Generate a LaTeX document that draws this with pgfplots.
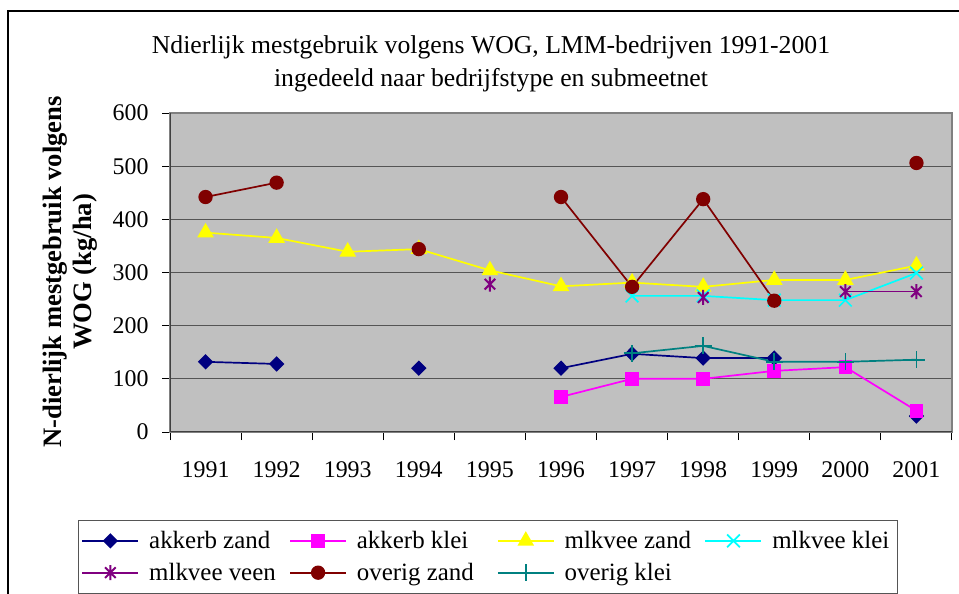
\documentclass[border=0pt]{standalone}
\usepackage{fontspec}
\setmainfont{Liberation Serif}
\usepackage{pgfplots}
\pgfplotsset{compat=1.18}
\definecolor{cAZ}{RGB}{0,0,128}
\definecolor{cAK}{RGB}{255,0,255}
\definecolor{cMZ}{RGB}{255,255,0}
\definecolor{cMK}{RGB}{0,255,255}
\definecolor{cMV}{RGB}{128,0,128}
\definecolor{cOZ}{RGB}{128,0,0}
\definecolor{cOK}{RGB}{0,128,128}
\definecolor{plotbg}{RGB}{192,192,192}
\definecolor{gridc}{RGB}{85,85,85}
\definecolor{borderc}{RGB}{128,128,128}
\pgfdeclareplotmark{xstar}{%
  \pgfpathmoveto{\pgfqpoint{0pt}{\pgfplotmarksize}}%
  \pgfpathlineto{\pgfqpoint{0pt}{-\pgfplotmarksize}}%
  \pgfpathmoveto{\pgfqpoint{-.7071\pgfplotmarksize}{-.7071\pgfplotmarksize}}%
  \pgfpathlineto{\pgfqpoint{.7071\pgfplotmarksize}{.7071\pgfplotmarksize}}%
  \pgfpathmoveto{\pgfqpoint{-.7071\pgfplotmarksize}{.7071\pgfplotmarksize}}%
  \pgfpathlineto{\pgfqpoint{.7071\pgfplotmarksize}{-.7071\pgfplotmarksize}}%
  \pgfusepathqstroke}
\newcommand{\lbox}[1]{\makebox[136bp][l]{#1}}
\begin{document}
\begin{tikzpicture}
\useasboundingbox (0bp,0bp) rectangle (959bp,594bp);
\clip (0bp,0bp) rectangle (959bp,594bp);
\draw[line width=1.5bp] (8bp,-30bp) rectangle (1000bp,583bp);
\node[align=center, font=\fontsize{25.8}{33}\selectfont] at (491bp,530bp)
  {Ndierlijk mestgebruik volgens WOG, LMM-bedrijven 1991-2001\\ingedeeld naar bedrijfstype en submeetnet};
\node[rotate=90, align=center, font=\fontsize{26.7}{30}\selectfont\bfseries] at (70bp,322bp)
  {N-dierlijk mestgebruik volgens\\WOG (kg/ha)};
\begin{axis}[
  at={(170bp,162bp)}, anchor=south west,
  scale only axis, width=782bp, height=319bp,
  xmin=1990.5, xmax=2001.5, ymin=0, ymax=600,
  xtick={1991,...,2001},
  minor xtick={1990.5,1991.5,...,2001.5},
  ytick={0,100,...,600},
  major x tick style={draw=none},
  x tick label style={/pgf/number format/1000 sep=, yshift=-18bp},
  y tick label style={xshift=-10bp},
  /pgf/number format/assume math mode=true,
  tick label style={font=\fontsize{24}{28}\selectfont},
  tick align=outside, tick pos=left,
  major tick length=8bp, minor tick length=8bp,
  tick style={color=black, line width=1bp},
  ymajorgrids, major grid style={color=gridc, line width=1.3bp},
  axis background/.style={fill=plotbg},
  axis line style={color=borderc, line width=1.3bp},
  unbounded coords=jump,
  every axis plot/.append style={line width=1.7bp},
  legend image code/.code={\draw[mark repeat=2,mark phase=2,#1] plot coordinates {(0bp,0bp) (28bp,0bp) (56bp,0bp)};},
  legend columns=4,
  legend cell align=left,
  legend style={at={(axis description cs:-0.1176,-0.2759)}, anchor=north west,
    draw=gridc, line width=1bp, font=\fontsize{25}{28}\selectfont,
    inner xsep=3bp, inner ysep=9bp,
    /tikz/every odd column/.append style={column sep=6bp},
    row sep=9bp,
    nodes={inner ysep=2bp, inner xsep=4bp}},
]
\addplot[color=cAZ, mark=diamond*, mark size=6.5bp, mark options={xscale=1.33, solid}] coordinates {
 (1991,132) (1992,128) (1993,nan) (1994,120) (1995,nan) (1996,120) (1997,147) (1998,139) (1999,139) (2000,nan) (2001,30)};
\addlegendentry{\lbox{akkerb zand}}
\addplot[color=cAK, mark=square*, mark size=6bp] coordinates {
 (1996,66) (1997,100) (1998,100) (1999,115) (2000,122) (2001,40)};
\addlegendentry{\lbox{akkerb klei}}
\addplot[color=cMZ, mark=triangle*, mark size=8bp] coordinates {
 (1991,375) (1992,365) (1993,339) (1994,344) (1995,304) (1996,274) (1997,281) (1998,273) (1999,286) (2000,286) (2001,313)};
\addlegendentry{\lbox{mlkvee zand}}
\addplot[color=cMK, mark=x, mark size=9bp] coordinates {
 (1997,256) (1998,256) (1999,248) (2000,248) (2001,299)};
\addlegendentry{\makebox[118bp][l]{mlkvee klei}}
\addplot[color=cMV, mark=xstar, mark size=7.5bp, mark options={line width=2bp}] coordinates {
 (1995,278) (1996,nan) (1997,nan) (1998,253) (1999,nan) (2000,264) (2001,264)};
\addlegendentry{\lbox{mlkvee veen}}
\addplot[color=cOZ, mark=*, mark size=6.3bp] coordinates {
 (1991,442) (1992,469) (1993,nan) (1994,344) (1995,nan) (1996,442) (1997,273) (1998,438) (1999,247) (2000,nan) (2001,506)};
\addlegendentry{\lbox{overig zand}}
\addplot[color=cOK, mark=+, mark size=8.5bp] coordinates {
 (1997,148) (1998,162) (1999,132) (2000,132) (2001,136)};
\addlegendentry{\lbox{overig klei}}
\draw[color=black!75, line width=1.3bp] (rel axis cs:0,1) -- (rel axis cs:0,0) -- (rel axis cs:1,0);
\end{axis}
\end{tikzpicture}
\end{document}
